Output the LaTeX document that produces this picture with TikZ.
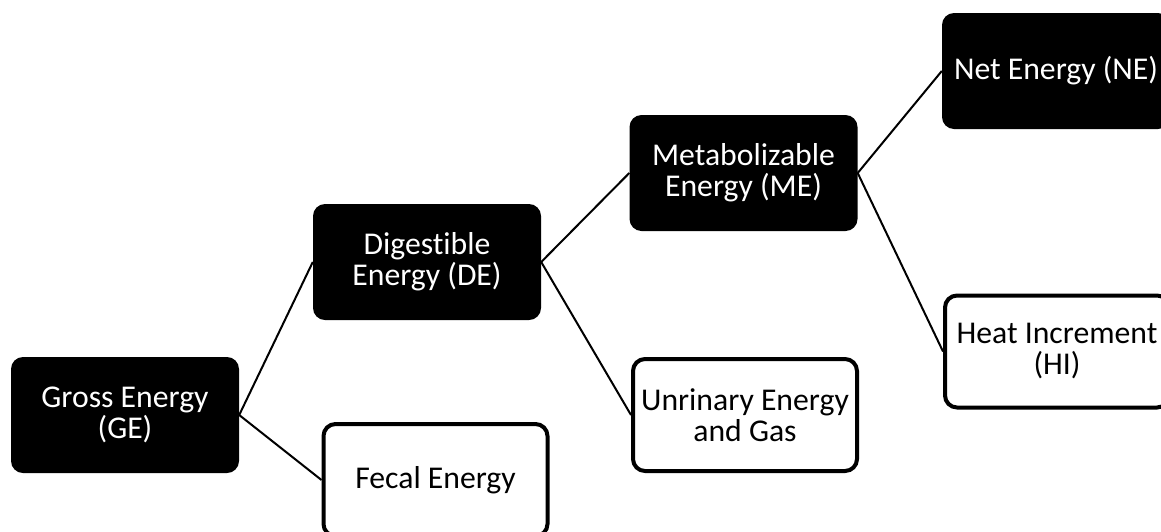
\documentclass[tikz,border=0pt]{standalone}
\usepackage{fontspec}
\setmainfont{Carlito}[Ligatures=NoCommon]
\begin{document}
\begin{tikzpicture}[x=1pt,y=-1pt,
  box/.style={rounded corners=12pt, minimum width=228pt, minimum height=116pt,
    align=center, inner sep=2pt, font=\fontsize{31.7}{31}\selectfont},
  darkbox/.style={box, fill=black, text=white},
  lightbox/.style={box, fill=white, draw=black, line width=4pt, minimum width=224pt, minimum height=112pt},
  link/.style={draw=black, line width=2pt}]
\useasboundingbox (0,0) rectangle (1161,531);
\clip (0,0) rectangle (1161,531);
\node[darkbox] (ge) at (125,415) {Gross Energy\\(GE)};
\node[darkbox] (de) at (427,262) {Digestible\\Energy (DE)};
\node[darkbox] (me) at (743.5,173) {Metabolizable\\Energy (ME)};
\node[darkbox] (ne) at (1056,71) {Net Energy (NE)};
\node[lightbox] (fe) at (435.5,480) {Fecal Energy};
\node[lightbox] (ug) at (745,415) {Unrinary Energy\\and Gas};
\node[lightbox] (hi) at (1057,351.5) {Heat Increment\\(HI)};
\draw[link] (ge.east) -- (de.west);
\draw[link] (ge.east) -- (fe.west);
\draw[link] (de.east) -- (me.west);
\draw[link] (de.east) -- (ug.west);
\draw[link] (me.east) -- (ne.west);
\draw[link] (me.east) -- (hi.west);
\end{tikzpicture}
\end{document}
